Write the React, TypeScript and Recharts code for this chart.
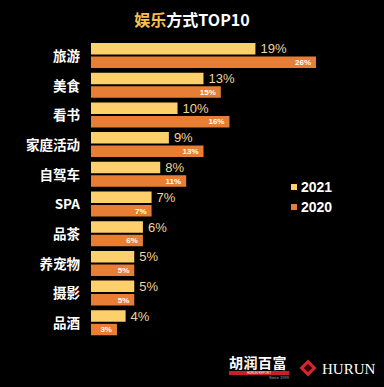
import React from 'react';
import { BarChart, Bar, XAxis, YAxis, LabelList, Legend } from 'recharts';

const categories = ['旅游', '美食', '看书', '家庭活动', '自驾车', 'SPA', '品茶', '养宠物', '摄影', '品酒'];
const values2021 = [19, 13, 10, 9, 8, 7, 6, 5, 5, 4];
const values2020 = [26, 15, 16, 13, 11, 7, 6, 5, 5, 3];
const seriesNames = ['2021', '2020'];

const data = categories.map((c, i) => ({ name: c, y2021: values2021[i], y2020: values2020[i] }));

const YELLOW = '#fdd06c';
const ORANGE = '#e87e34';
const CJK = '"Noto Sans CJK SC", "Liberation Sans", Arial, sans-serif';
const LAT = '"Liberation Sans", Arial, sans-serif';

const Tick = (props: any) => {
  const { x, y, payload } = props;
  return (
    <text x={x} y={y} dy={5} textAnchor="end" fill="#ffffff" fontSize={13.5} fontWeight={700} fontFamily={CJK}>
      {payload.value}
    </text>
  );
};

const LegendContent = () => (
  <div style={{ fontFamily: LAT }}>
    {seriesNames.map((n, i) => (
      <div key={n} style={{ display: 'flex', alignItems: 'center', height: 20 }}>
        <span style={{ width: 6, height: 6, background: i === 0 ? YELLOW : ORANGE, display: 'inline-block', marginRight: 4 }} />
        <span style={{ color: '#fff', fontSize: 14, fontWeight: 700 }}>{n}</span>
      </div>
    ))}
  </div>
);

export default function App() {
  return (
    <div style={{ position: 'fixed', left: 0, top: 0, width: 384, height: 387, background: '#000', overflow: 'hidden' }}>
      <div style={{ position: 'absolute', top: 9, left: 0, width: 384, textAlign: 'center', fontFamily: CJK, fontWeight: 700, fontSize: 16, lineHeight: '20px' }}>
        <span style={{ color: '#f6c04a' }}>娱乐</span>
        <span style={{ color: '#fff' }}>方式TOP10</span>
      </div>
      <BarChart
        width={384}
        height={387}
        data={data}
        layout="vertical"
        margin={{ top: 41, right: 68, bottom: 9, left: 0 }}
        barSize={11.5}
        barGap={2}
      >
        <XAxis type="number" domain={[0, 26]} hide />
        <YAxis type="category" dataKey="name" width={91} axisLine={false} tickLine={false} tickMargin={5} tick={<Tick />} interval={0} />
        <Legend
          layout="vertical"
          content={<LegendContent />}
          wrapperStyle={{ position: 'absolute', left: 291, top: 177, width: 60 }}
        />
        <Bar dataKey="y2021" name="2021" fill={YELLOW} isAnimationActive={false}>
          <LabelList dataKey="y2021" position="right" offset={5} formatter={(v: any) => `${v}%`} fill="#f2d49c" fontSize={13} fontFamily={LAT} />
        </Bar>
        <Bar dataKey="y2020" name="2020" fill={ORANGE} isAnimationActive={false}>
          <LabelList dataKey="y2020" position="insideRight" offset={5} formatter={(v: any) => `${v}%`} fill="#ffffff" fontSize={8} fontWeight={700} fontFamily={LAT} />
        </Bar>
      </BarChart>
      <div style={{ position: 'absolute', left: 229, top: 354, width: 60, fontFamily: CJK }}>
        <div style={{ color: '#fff', fontWeight: 700, fontSize: 14, lineHeight: '16px', letterSpacing: 0.5 }}>胡润百富</div>
        <div style={{ background: '#c8202a', height: 4, marginTop: 1, color: '#fff', fontSize: 3, lineHeight: '4px', textAlign: 'center', fontFamily: LAT }}>HURUN REPORT</div>
        <div style={{ color: '#aaa', fontSize: 4, lineHeight: '6px', textAlign: 'right', fontFamily: LAT }}>Since 1999</div>
      </div>
      <div style={{ position: 'absolute', left: 302, top: 362, width: 12, height: 12, background: '#d8262f', transform: 'rotate(45deg)' }}>
        <div style={{ position: 'absolute', left: 3, top: 3, width: 6, height: 6, background: '#300' }} />
      </div>
      <div style={{ position: 'absolute', left: 322, top: 361, fontFamily: '"Liberation Serif", serif', color: '#fff', fontSize: 15, lineHeight: '17px' }}>HURUN</div>
    </div>
  );
}
